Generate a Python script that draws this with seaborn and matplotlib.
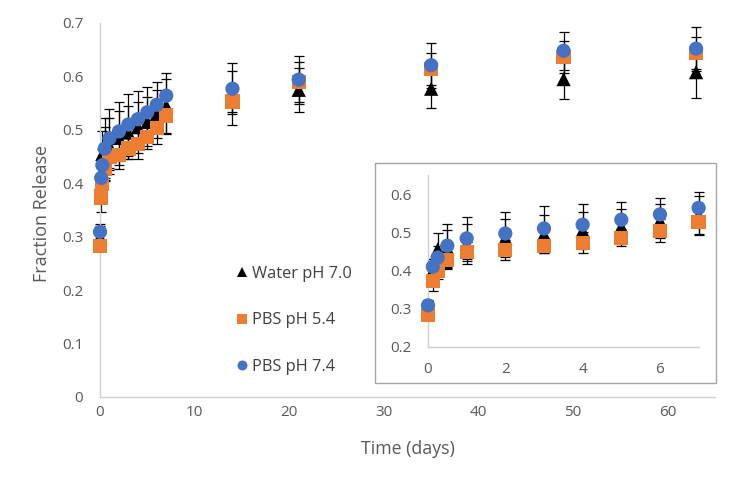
import numpy as np
import pandas as pd
import matplotlib
matplotlib.use('Agg')
import matplotlib.pyplot as plt
import matplotlib.patches as patches
import seaborn as sns

# release times (days) and mean fraction released
time_days = [0, 0.125, 0.25, 0.5, 1, 2, 3, 4, 5, 6, 7, 14, 21, 35, 49, 63]
water_70 = [0.300, 0.400, 0.455, 0.458, 0.470, 0.485, 0.495, 0.505, 0.515, 0.530, 0.545,
            0.560, 0.575, 0.577, 0.595, 0.608]
pbs_54 = [0.283, 0.373, 0.399, 0.427, 0.449, 0.453, 0.465, 0.473, 0.486, 0.504, 0.527,
          0.553, 0.590, 0.614, 0.637, 0.644]
pbs_74 = [0.309, 0.410, 0.434, 0.465, 0.484, 0.497, 0.510, 0.520, 0.533, 0.547, 0.564,
          0.577, 0.594, 0.621, 0.648, 0.652]

# standard deviations
water_err = [0.020, 0.030, 0.042, 0.048, 0.052, 0.050, 0.050, 0.048, 0.046, 0.045, 0.050,
             0.050, 0.041, 0.037, 0.037, 0.048]
pbs54_err = [0.010, 0.027, 0.020, 0.022, 0.025, 0.026, 0.020, 0.027, 0.022, 0.030, 0.034,
             0.020, 0.037, 0.030, 0.030, 0.030]
pbs74_err = [0.015, 0.020, 0.030, 0.058, 0.055, 0.055, 0.058, 0.053, 0.047, 0.043, 0.042,
             0.048, 0.045, 0.042, 0.036, 0.041]

labels = ['Water pH 7.0', 'PBS pH 5.4', 'PBS pH 7.4']
colors = {'Water pH 7.0': 'black', 'PBS pH 5.4': '#ED7D31', 'PBS pH 7.4': '#4472C4'}
markers = {'Water pH 7.0': '^', 'PBS pH 5.4': 's', 'PBS pH 7.4': 'o'}

df = pd.concat([
    pd.DataFrame({'Time': time_days, 'Release': water_70, 'Err': water_err, 'Medium': labels[0]}),
    pd.DataFrame({'Time': time_days, 'Release': pbs_54, 'Err': pbs54_err, 'Medium': labels[1]}),
    pd.DataFrame({'Time': time_days, 'Release': pbs_74, 'Err': pbs74_err, 'Medium': labels[2]}),
])

sns.set_theme(style='white')
plt.rcParams['font.family'] = ['Open Sans', 'DejaVu Sans']
grey_txt = '#595959'
spine_col = '#D0D0D0'


def draw(ax, data, size):
    for lab in labels:
        sub = data[data['Medium'] == lab]
        ax.errorbar(sub['Time'], sub['Release'], yerr=sub['Err'], fmt='none',
                    ecolor='black', elinewidth=0.9, capsize=3.6, capthick=0.9,
                    zorder=2, clip_on=False)
    sns.scatterplot(data=data, x='Time', y='Release', hue='Medium', style='Medium',
                    hue_order=labels, style_order=labels, palette=colors, markers=markers,
                    s=size, linewidth=0, ax=ax, zorder=3, clip_on=False)


def style_axes(ax, pad_x, pad_y):
    sns.despine(ax=ax)
    for side in ['left', 'bottom']:
        ax.spines[side].set_color(spine_col)
        ax.spines[side].set_linewidth(1.0)
    ax.tick_params(axis='both', direction='in', length=4, width=1, color=spine_col,
                   labelcolor=grey_txt, labelsize=11)
    ax.tick_params(axis='x', pad=pad_x)
    ax.tick_params(axis='y', pad=pad_y)
    ax.set_facecolor('none')


fig = plt.figure(figsize=(7.38, 4.91), dpi=100)
W, H = 738, 491

# main axes
ax = fig.add_axes([100 / W, (H - 397) / H, (715 - 100) / W, (397 - 23) / H])
draw(ax, df, 105)
ax.set_xlim(0, 65)
ax.set_ylim(0, 0.7)
ax.set_xticks([0, 10, 20, 30, 40, 50, 60])
ax.set_yticks(np.arange(0, 0.71, 0.1))
ax.set_yticklabels(['0', '0.1', '0.2', '0.3', '0.4', '0.5', '0.6', '0.7'])
style_axes(ax, 5.5, 12)
ax.set_xlabel('Time (days)', color=grey_txt, fontsize=12.8)
ax.set_ylabel('Fraction Release', color=grey_txt, fontsize=13)
ax.xaxis.set_label_coords(0.5, -0.115)
ax.yaxis.set_label_coords(-0.08, 0.49)

handles, _ = ax.get_legend_handles_labels()
ax.legend(handles=handles, labels=labels, loc='upper left',
          bbox_to_anchor=(236 / W, (H - 266) / H), bbox_transform=fig.transFigure,
          frameon=False, fontsize=11.8, labelcolor='#404040', markerscale=0.7,
          handlelength=0.7, handletextpad=0.3, labelspacing=1.85,
          borderpad=0, borderaxespad=0)

# inset frame
box = patches.Rectangle((375 / W, (H - 383) / H), (716 - 375) / W, (383 - 163) / H,
                        transform=fig.transFigure, facecolor='white',
                        edgecolor='#A6A6A6', linewidth=1.0, zorder=1)
fig.patches.append(box)

# inset axes: first week
axi = fig.add_axes([428 / W, (H - 347) / H, (698.6 - 428) / W, (347 - 175) / H], zorder=2)
early = df[df['Time'] <= 7]
draw(axi, early, 105)
axi.set_xlim(0, 7)
axi.set_ylim(0.2, 0.65)
axi.set_xticks([0, 2, 4, 6])
axi.set_yticks([0.2, 0.3, 0.4, 0.5, 0.6])
axi.set_yticklabels(['0.2', '0.3', '0.4', '0.5', '0.6'])
style_axes(axi, 11, 12)
axi.set_xlabel('')
axi.set_ylabel('')
if axi.get_legend() is not None:
    axi.get_legend().remove()

fig.savefig('out.png', dpi=100)
